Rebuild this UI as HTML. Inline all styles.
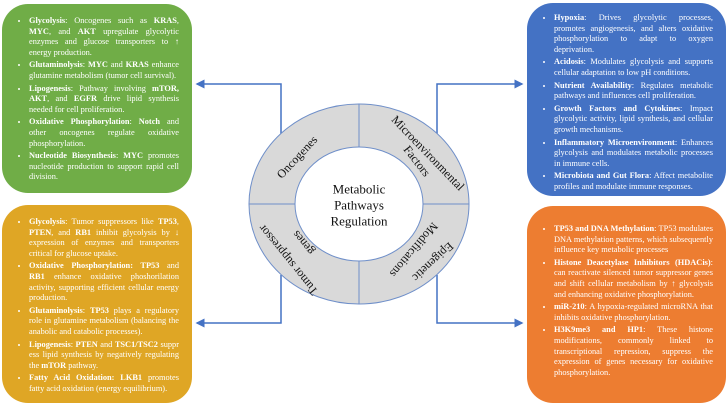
<!DOCTYPE html>
<html><head><meta charset="utf-8"><style>
body{margin:0;width:728px;height:407px;background:#fff;position:relative;overflow:hidden;font-family:"Liberation Serif",serif;}
.box{position:absolute;border-radius:26px;color:#fff;font-size:8.35px;line-height:10.6px;box-sizing:border-box;}
.box ul{margin:0;padding:0 0 0 10px;}
.box li{text-align:justify;margin:0 0 2px 0;padding-left:0;}
.box li::marker{font-size:7px;}
b{font-weight:bold;}
svg{position:absolute;left:0;top:0;}
</style></head><body>
<svg width="728" height="407">
<defs><marker id="a" markerWidth="6" markerHeight="6" refX="5" refY="3" orient="auto"><path d="M0,0 L6,3 L0,6 z" fill="#4472c4"/></marker></defs>
<g stroke="#4472c4" stroke-width="1.5" fill="none">
<polyline points="281,135 281,84 197,84" marker-end="url(#a)"/>
<polyline points="437,135 437,84 522,84" marker-end="url(#a)"/>
<polyline points="281,275 281,323 197,323" marker-end="url(#a)"/>
<polyline points="437,275 437,323 522,323" marker-end="url(#a)"/>
</g>
<ellipse cx="359" cy="204" rx="110" ry="100" fill="#d9d9d9" stroke="#6f8fc9" stroke-width="1"/>
<g stroke="#6f8fc9" stroke-width="1">
<line x1="359" y1="104" x2="359" y2="304"/>
<line x1="249" y1="204" x2="469" y2="204"/>
</g>
<ellipse cx="359" cy="204" rx="64" ry="57" fill="#fff" stroke="#6f8fc9" stroke-width="1"/>
<g font-family="Liberation Serif, serif" font-size="13" fill="#111" text-anchor="middle" dominant-baseline="central">
<text x="359" y="189">Metabolic</text>
<text x="359" y="205">Pathways</text>
<text x="359" y="221">Regulation</text>
<g font-size="12">
<text transform="translate(297,157) rotate(-47)">Oncogenes</text>
<text transform="translate(428,153) rotate(46)">Microenvironmental</text>
<text transform="translate(417,161) rotate(52)">Factors</text>
<text transform="translate(433,262) rotate(137)">Epigenetic</text>
<text transform="translate(414,250) rotate(130)">Modifications</text>
<text transform="translate(288,260) rotate(231)">Tumor suppressor</text>
<text transform="translate(303,243) rotate(231)">genes</text>
</g>
</g>
</svg>
<div class="box" style="left:2px;top:4px;width:190px;height:189px;background:#70ad47;padding:12px 13px 0 17px;">
<ul>
<li><b>Glycolysis</b>: Oncogenes such as <b>KRAS</b>, <b>MYC</b>, and <b>AKT</b> upregulate glycolytic enzymes and glucose transporters to ↑ energy production.</li>
<li><b>Glutaminolysis</b>: <b>MYC</b> and <b>KRAS</b> enhance glutamine metabolism (tumor cell survival).</li>
<li><b>Lipogenesis</b>: Pathway involving <b>mTOR, AKT</b>, and <b>EGFR</b> drive lipid synthesis needed for cell proliferation.</li>
<li><b>Oxidative Phosphorylation</b>: <b>Notch</b> and other oncogenes regulate oxidative phosphorylation.</li>
<li><b>Nucleotide Biosynthesis</b>: <b>MYC</b> promotes nucleotide production to support rapid cell division.</li>
</ul></div>
<div class="box" style="left:2px;top:205px;width:190px;height:198px;background:#dfa625;padding:12px 13px 0 17px;">
<ul>
<li><b>Glycolysis</b>: Tumor suppressors like <b>TP53</b>, <b>PTEN</b>, and <b>RB1</b> inhibit glycolysis by ↓ expression of enzymes and transporters critical for glucose uptake.</li>
<li><b>Oxidative Phosphorylation: TP53</b> and <b>RB1</b> enhance oxidative phoshorilation activity, supporting efficient cellular energy production.</li>
<li><b>Glutaminolysis</b>: <b>TP53</b> plays a regulatory role in glutamine metabolism (balancing the anabolic and catabolic processes).</li>
<li><b>Lipogenesis</b>: <b>PTEN</b> and <b>TSC1/TSC2</b> suppr ess lipid synthesis by negatively regulating the <b>mTOR</b> pathway.</li>
<li><b>Fatty Acid Oxidation: LKB1</b> promotes fatty acid oxidation (energy equilibrium).</li>
</ul></div>
<div class="box" style="left:527px;top:3px;width:199px;height:193px;background:#4472c4;padding:10px 13px 0 17px;">
<ul>
<li><b>Hypoxia</b>: Drives glycolytic processes, promotes angiogenesis, and alters oxidative phosphorylation to adapt to oxygen deprivation.</li>
<li><b>Acidosis</b>: Modulates glycolysis and supports cellular adaptation to low pH conditions.</li>
<li><b>Nutrient Availability</b>: Regulates metabolic pathways and influences cell proliferation.</li>
<li><b>Growth Factors and Cytokines</b>: Impact glycolytic activity, lipid synthesis, and cellular growth mechanisms.</li>
<li><b>Inflammatory Microenvironment</b>: Enhances glycolysis and modulates metabolic processes in immune cells.</li>
<li><b>Microbiota and Gut Flora</b>: Affect metabolite profiles and modulate immune responses.</li>
</ul></div>
<div class="box" style="left:527px;top:206px;width:199px;height:197px;background:#ed7d31;padding:18px 13px 0 17px;">
<ul>
<li><b>TP53 and DNA Methylation</b>: TP53 modulates DNA methylation patterns, which subsequently influence key metabolic processes</li>
<li><b>Histone Deacetylase Inhibitors (HDACis)</b>: can reactivate silenced tumor suppressor genes and shift cellular metabolism by ↑ glycolysis and enhancing oxidative phosphorylation.</li>
<li><b>miR-210</b>: A hypoxia-regulated microRNA that inhibits oxidative phosphorylation.</li>
<li><b>H3K9me3 and HP1</b>: These histone modifications, commonly linked to transcriptional repression, suppress the expression of genes necessary for oxidative phosphorylation.</li>
</ul></div>
</body></html>
